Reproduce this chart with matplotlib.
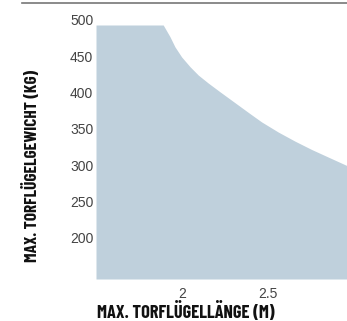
import matplotlib
matplotlib.use("Agg")
import matplotlib.pyplot as plt
import matplotlib.transforms as mtransforms
from matplotlib.lines import Line2D

# Wing length (m) vs max wing weight (kg)
length_m = [1.50, 1.891, 1.930, 1.959, 1.998, 2.047, 2.095, 2.153, 2.221,
            2.308, 2.395, 2.463, 2.560, 2.657, 2.754, 2.851, 2.958]
weight_kg = [500, 500, 484, 470, 456, 442.5, 431, 420, 408,
             393, 378, 366.5, 352.5, 340, 328.5, 318, 306.5]

y_ticks = [200, 250, 300, 350, 400, 450, 500]
x_ticks = [2, 2.5]
x_ticklabels = ["2", "2.5"]

FILL = "#bfd0dc"
W, H = 347, 321

fig = plt.figure(figsize=(W / 100, H / 100), dpi=100)
ax = fig.add_axes([96 / W, 1 - 279 / H, 1 - 96 / W, (279 - 25) / H])

ax.fill_between(length_m, 150, weight_kg, color=FILL, linewidth=0)
ax.set_xlim(1.5, 2.96)
ax.set_ylim(150, 500)

ax.set_yticks(y_ticks)
ax.set_xticks(x_ticks)
ax.set_xticklabels(x_ticklabels)
ax.tick_params(length=0, labelsize=10, labelcolor="#444444")
ax.tick_params(axis="y", pad=2)
ax.tick_params(axis="x", pad=6)
for lab in ax.get_yticklabels():
    lab.set_fontfamily("Liberation Sans")
    lab.set_transform(lab.get_transform() +
                      mtransforms.ScaledTranslation(0, 5 / 100, fig.dpi_scale_trans))
for lab in ax.get_xticklabels():
    lab.set_fontfamily("Liberation Sans")
for s in ax.spines.values():
    s.set_visible(False)

label_font = dict(family="Barlow Condensed", weight=700, color="#111111")
fig.text(186 / W, 1 - 318 / H, "MAX. TORFLÜGELLÄNGE (M)",
         ha="center", va="baseline", size=13.2, **label_font)
fig.text(31 / W, 1 - 165.5 / H, "MAX. TORFLÜGELGEWICHT (KG)",
         ha="center", va="center", rotation=90, size=12.6, **label_font)

# thin rule across the top
fig.add_artist(Line2D([22 / W, 1], [1 - 2.5 / H, 1 - 2.5 / H],
                      transform=fig.transFigure, color="#777777", linewidth=1.2))

fig.savefig("out.png", dpi=100)
